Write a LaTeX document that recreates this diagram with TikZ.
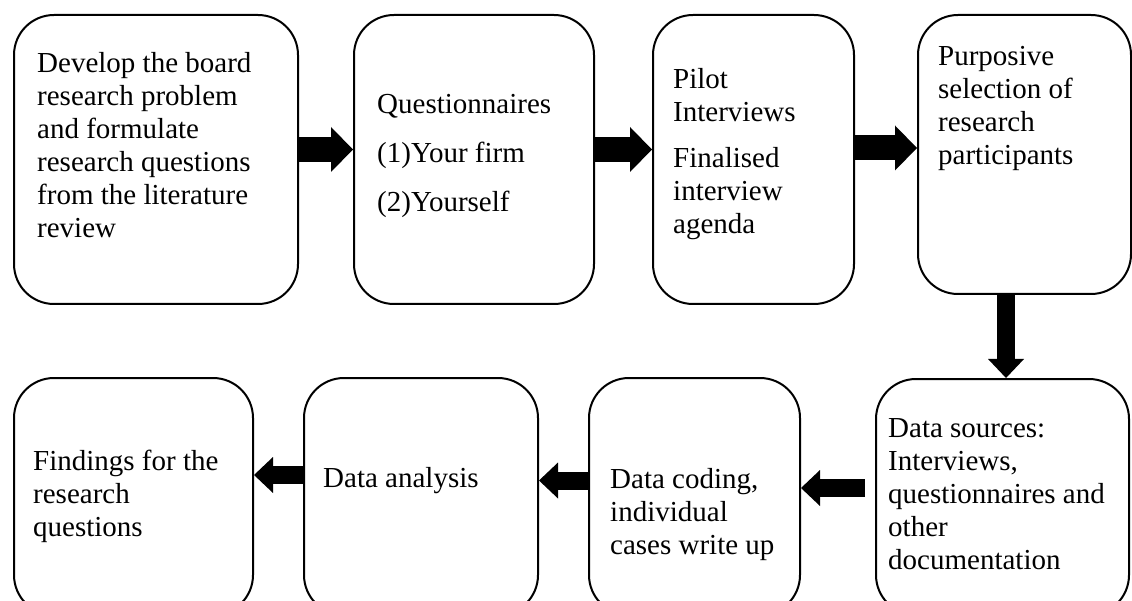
\documentclass[tikz,border=0pt]{standalone}
\usepackage{fontspec}
\setmainfont{Liberation Serif}
\usetikzlibrary{arrows.meta}

\tikzset{
  stage/.style={draw=black, line width=2pt, rounded corners=40pt, anchor=north west,
    inner sep=0pt, fill=white},
  stagetext/.style={anchor=north west, inner sep=0pt, align=left,
    font=\fontsize{29}{33}\selectfont},
  toparrow/.style={draw=black, line width=25pt,
    -{Triangle[length=22pt, width=45pt, line width=0pt]}},
  botarrow/.style={draw=black, line width=18pt,
    -{Triangle[length=19pt, width=36pt, line width=0pt]}},
}

\begin{document}
\begin{tikzpicture}[x=1pt, y=-1pt]
  \useasboundingbox (0,0) rectangle (1132,601);
  \clip (0,0) rectangle (1132,601);

  % process stages, top row
  \node[stage, minimum width=284pt, minimum height=289pt] (b1) at (13,14) {};
  \node[stage, minimum width=240pt, minimum height=289pt] (b2) at (353,14) {};
  \node[stage, minimum width=201pt, minimum height=289pt] (b3) at (652,14) {};
  \node[stage, minimum width=213pt, minimum height=279pt] (b4) at (917,14) {};

  % process stages, bottom row (running off the lower edge)
  \node[stage, minimum width=253pt, minimum height=236pt] (b5) at (875,378) {};
  \node[stage, minimum width=211pt, minimum height=237pt] (b8) at (588,377) {};
  \node[stage, minimum width=234pt, minimum height=237pt] (b7) at (303,377) {};
  \node[stage, minimum width=239pt, minimum height=237pt] (b6) at (13,377) {};

  % stage labels
  \node[stagetext] (t1) at (37,49.5) {\strut Develop the board\\research problem\\and formulate\\research questions\\from the literature\\review};
  \node[stagetext] (t2) at (377,90) {\strut Questionnaires\\[16pt](1)Your firm\\[16pt](2)Yourself};
  \node[stagetext] (t3) at (673,65) {\strut Pilot\\Interviews\\[13pt]Finalised\\interview\\agenda};
  \node[stagetext] (t4) at (938,42) {\strut Purposive\\selection of\\research\\participants};
  \node[stagetext] (t5) at (888,414) {\strut Data sources:\\Interviews,\\questionnaires and\\other\\documentation};
  \node[stagetext] (t6) at (33,447) {\strut Findings for the\\research\\questions};
  \node[stagetext] (t7) at (323,464) {\strut Data analysis};
  \node[stagetext] (t8) at (610,465) {\strut Data coding,\\individual\\cases write up};

  % arrow rows and column
  \coordinate (rowA) at (0,149.5);
  \coordinate (rowB) at (0,148);
  \coordinate (rowC) at (0,488);
  \coordinate (rowD) at (0,480.5);
  \coordinate (rowE) at (0,475);
  \coordinate (colA) at (1006,0);

  % flow arrows
  \draw[toparrow] (b1.east |- rowA) -- (b2.west |- rowA);
  \draw[toparrow] (b2.east |- rowA) -- (b3.west |- rowA);
  \draw[toparrow] (b3.east |- rowB) -- (b4.west |- rowB);
  \draw[botarrow] (b4.south -| colA) -- (b5.north -| colA);
  \draw[botarrow, shorten <=10pt] (b5.west |- rowC) -- (b8.east |- rowC);
  \draw[botarrow] (b8.west |- rowD) -- (b7.east |- rowD);
  \draw[botarrow] (b7.west |- rowE) -- (b6.east |- rowE);
\end{tikzpicture}
\end{document}
